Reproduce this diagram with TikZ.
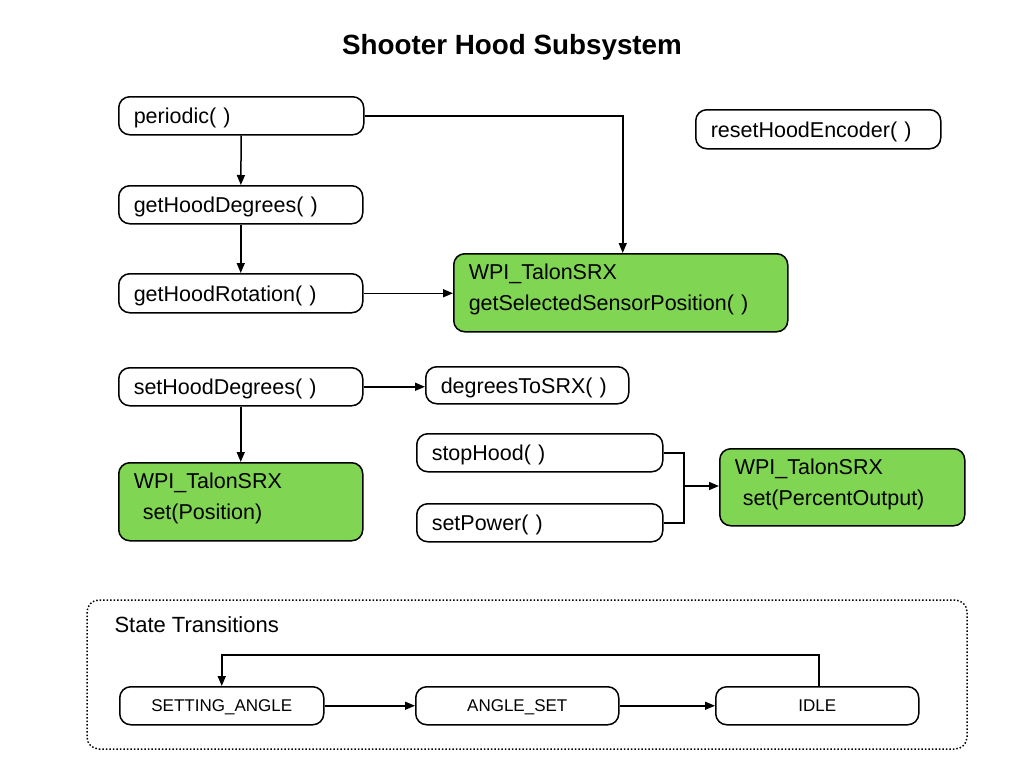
\documentclass[tikz,border=0pt]{standalone}
\usepackage{fontspec}
\setmainfont{Liberation Sans}
\usetikzlibrary{arrows.meta,calc}
\definecolor{talon}{RGB}{128,214,82}
\newcommand{\pp}{( )}
\tikzset{
  box/.style={draw=black, line width=1.5pt, rounded corners=11pt, rectangle, anchor=north west,
     inner xsep=15pt, inner ysep=0pt, align=left, text depth=0pt, font=\fontsize{21.5}{31}\selectfont},
  gbox/.style={box, fill=talon, text depth=41.5pt},
  sbox/.style={draw=black, line width=1.5pt, rounded corners=11pt, rectangle, anchor=north west,
     inner sep=0pt, align=center, font=\fontsize{17}{20}\selectfont},
  conn/.style={line width=1.5pt, -{Triangle[length=10pt,width=8pt]}},
  plain/.style={line width=1.5pt}
}
\begin{document}
\begin{tikzpicture}[x=1pt,y=-1pt]
\useasboundingbox (0,0) rectangle (1024,768);
\node[font=\bfseries\fontsize{27.8}{33}\selectfont] (title) at (512,47) {Shooter Hood Subsystem};

\node[box, text width=215pt, minimum height=38pt] (periodic) at (118,96) {periodic\pp};
\node[box, text width=214pt, minimum height=38pt] (gethd) at (118,185) {getHoodDegrees\pp};
\node[box, text width=214pt, minimum height=39pt] (gethr) at (118,273) {getHoodRotation\pp};
\node[gbox, text width=304pt, minimum height=78pt] (green1) at (453,253) {WPI\_TalonSRX\\getSelectedSensorPosition\pp};
\node[box, text width=215pt, minimum height=39pt] (reset) at (695,109) {resetHoodEncoder\pp};
\node[box, text width=214pt, minimum height=38pt] (sethd) at (118,367) {setHoodDegrees\pp};
\node[box, text width=173pt, minimum height=37pt] (deg) at (425,366) {degreesToSRX\pp};
\node[gbox, text width=214pt, minimum height=78pt] (green2) at (118,462) {WPI\_TalonSRX\\\hspace*{9pt}set(Position)};
\node[box, text width=216pt, minimum height=38pt] (stop) at (416,433) {stopHood\pp};
\node[box, text width=216pt, minimum height=38pt] (setp) at (416,503) {setPower\pp};
\node[gbox, text width=215pt, minimum height=77pt] (green3) at (719,448) {WPI\_TalonSRX\\\hspace*{8pt}set(PercentOutput)};

\draw[line width=1.5pt, dotted, rounded corners=12pt] (87,600) rectangle (967,749);
\node[anchor=west, font=\fontsize{22}{26}\selectfont] (st) at (111,625) {State Transitions};

\node[sbox, minimum width=204pt, minimum height=38pt, text depth=1pt] (sa) at (119,686) {SETTING\_ANGLE};
\node[sbox, minimum width=203pt, minimum height=38pt, text depth=1pt] (as) at (415,686) {ANGLE\_SET};
\node[sbox, minimum width=203pt, minimum height=38pt, text depth=1pt] (idle) at (715,686) {IDLE};

\coordinate (j) at (684,486);

\draw[conn] (periodic) -- (gethd);
\draw[conn] (gethd) -- (gethr);
\draw[conn] (gethr.east) -- (green1.west |- gethr.east);
\draw[conn] (periodic.east) -| ([xshift=2pt]green1.north);
\draw[conn] (sethd.east) -- (deg.west |- sethd.east);
\draw[conn] (sethd) -- (green2);
\draw[plain] (stop.east) -| (j);
\draw[plain] (setp.east) -| (j);
\draw[conn] (j) -- (green3.west |- j);
\draw[conn] (sa) -- (as);
\draw[conn] (as) -- (idle);
\draw[conn] ([xshift=1.5pt]idle.north) -- ++(0,-31) -| (sa.north);
\end{tikzpicture}
\end{document}
